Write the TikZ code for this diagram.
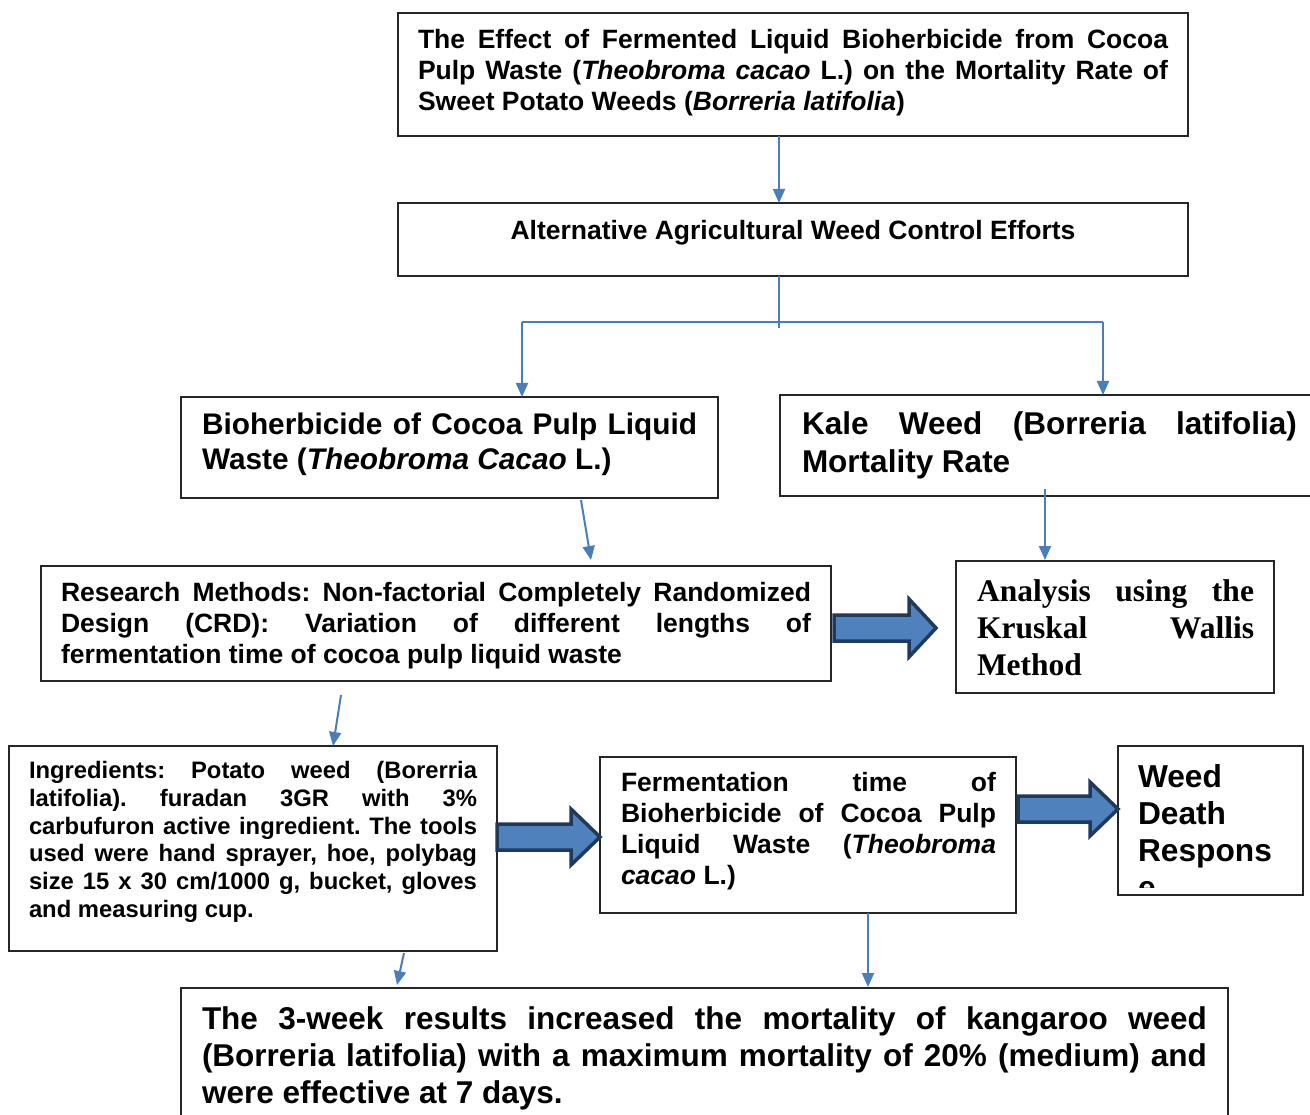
\documentclass[tikz,border=0pt]{standalone}
\usepackage{fontspec}
\setmainfont{Liberation Sans}
\newfontfamily\timesfont{Liberation Serif}
\usetikzlibrary{arrows.meta,calc}
\definecolor{connblue}{HTML}{4A7EBB}
\definecolor{blkfill}{HTML}{4F81BD}
\definecolor{blkdraw}{HTML}{1F3A5C}
\tolerance=10000
\hbadness=10000
\hyphenpenalty=10000
\exhyphenpenalty=10000
\frenchspacing
\tikzset{
  box/.style={draw=black!85, line width=1.3pt, anchor=north west, inner sep=0pt, outer sep=0pt},
  txt/.style={anchor=base west, inner sep=0pt, outer sep=0pt, align=justify, text width=#1},
  conn/.style={draw=connblue, line width=2pt, -{Triangle[length=14pt,width=12pt]}},
  plain/.style={draw=connblue, line width=2pt},
  blk/.style={fill=blkfill, draw=blkdraw, line width=3.5pt, line join=miter}
}
\begin{document}
\begin{tikzpicture}[x=1pt,y=-1pt]
\useasboundingbox (0,0) rectangle (1310,1115);

% boxes
\node[box, minimum width=790, minimum height=123] (title) at (398,13) {};
\node[box, minimum width=790, minimum height=73] (alt) at (398,203) {};
\node[box, minimum width=537, minimum height=101] (bio) at (181,397) {};
\node[box, minimum width=560, minimum height=101] (kale) at (780,395) {};
\node[box, minimum width=790, minimum height=115] (research) at (41,566) {};
\node[box, minimum width=318, minimum height=132] (analysis) at (956,561) {};
\node[box, minimum width=488, minimum height=205] (ingr) at (9,746) {};
\node[box, minimum width=416, minimum height=156] (ferm) at (600,757) {};
\node[box, minimum width=185, minimum height=149] (weed) at (1118,746) {};
\node[box, minimum width=1047, minimum height=150] (bottom) at (181,988) {};

% texts
\node[txt=750pt, font=\fontsize{26.5}{31}\selectfont\bfseries] (titleT) at (418,48.5)
 {The Effect of Fermented Liquid Bioherbicide from Cocoa\linebreak
  Pulp Waste (\textit{Theobroma cacao} L.) on the Mortality Rate of\linebreak
  Sweet Potato Weeds (\textit{Borreria latifolia})};
\node[anchor=base, inner sep=0pt, font=\fontsize{26.5}{31}\selectfont\bfseries] (altT) at (793,239.5)
 {Alternative Agricultural Weed Control Efforts};
\node[txt=495pt, font=\fontsize{29.8}{35}\selectfont\bfseries] (bioT) at (202,435)
 {Bioherbicide of Cocoa Pulp Liquid\linebreak Waste (\textit{Theobroma Cacao} L.)};
\node[txt=495pt, font=\fontsize{31.5}{38}\selectfont\bfseries] (kaleT) at (802,435)
 {Kale Weed (Borreria latifolia)\linebreak Mortality Rate};
\node[txt=750pt, font=\fontsize{26.5}{31}\selectfont\bfseries] (researchT) at (61,601.5)
 {Research Methods: Non-factorial Completely Randomized\linebreak
  Design (CRD): Variation of different lengths of\linebreak
  fermentation time of cocoa pulp liquid waste};
\node[txt=277pt, font=\timesfont\fontsize{31.5}{37}\selectfont\bfseries] (analysisT) at (977,601)
 {Analysis using the\linebreak Kruskal Wallis\linebreak Method};
\node[txt=448pt, font=\fontsize{23.8}{27.8}\selectfont\bfseries] (ingrT) at (29,778.5)
 {Ingredients: Potato weed (Borerria\linebreak
  latifolia). furadan 3GR with 3\%\linebreak
  carbufuron active ingredient. The tools\linebreak
  used were hand sprayer, hoe, polybag\linebreak
  size 15 x 30 cm/1000 g, bucket, gloves\linebreak
  and measuring cup.};
\node[txt=375pt, font=\fontsize{26.5}{31}\selectfont\bfseries] (fermT) at (621,791.5)
 {Fermentation time of\linebreak
  Bioherbicide of Cocoa Pulp\linebreak
  Liquid Waste (\textit{Theobroma}\linebreak
  \textit{cacao} L.)};
\begin{scope}
\clip (1118,746) rectangle (1303,887);
\node[txt=160pt, align=left, font=\fontsize{31.7}{37}\selectfont\bfseries] (weedT) at (1138,787.5)
 {Weed\\Death\\Respons\\e};
\end{scope}
\node[txt=1005pt, font=\fontsize{31.5}{37}\selectfont\bfseries] (bottomT) at (202,1029.5)
 {The 3-week results increased the mortality of kangaroo weed\linebreak
  (Borreria latifolia) with a maximum mortality of 20\% (medium) and\linebreak
  were effective at 7 days.};

% thin connectors
\draw[conn] ($(title.south)+(-14,0)$) -- ($(alt.north)+(-14,0)$);
\draw[plain] ($(alt.south)+(-14,0)$) -- ++(0,52);
\coordinate (bl) at (522,322);
\coordinate (brr) at (1103,322);
\draw[plain] (bl) -- (brr);
\draw[conn] (bl) -- (bl |- bio.north);
\draw[conn] (brr) -- (brr |- kale.north);
\draw[conn] ($(bio.south west)+(400,2)$) -- ($(research.north west)+(550,-6)$);
\draw[conn] ($(kale.south west)+(265,-7)$) -- ($(analysis.north west)+(89,-1)$);
\draw[conn] ($(research.south west)+(300,14)$) -- ($(ingr.north west)+(324,0)$);
\draw[conn] ($(ingr.south west)+(395,2)$) -- ($(bottom.north west)+(216,-3)$);
\draw[conn] ($(ferm.south west)+(268,0)$) -- ($(bottom.north west)+(687,-1)$);

% block arrows
\draw[blk] (834,615) -- (909,615) -- (909,599) -- (936,628) -- (909,657) -- (909,641) -- (834,641) -- cycle;
\draw[blk] (497,824) -- (571,824) -- (571,809) -- (600,837) -- (571,865) -- (571,850) -- (497,850) -- cycle;
\draw[blk] (1018,796) -- (1090,796) -- (1090,782) -- (1118,809) -- (1090,836) -- (1090,822) -- (1018,822) -- cycle;
\end{tikzpicture}
\end{document}
